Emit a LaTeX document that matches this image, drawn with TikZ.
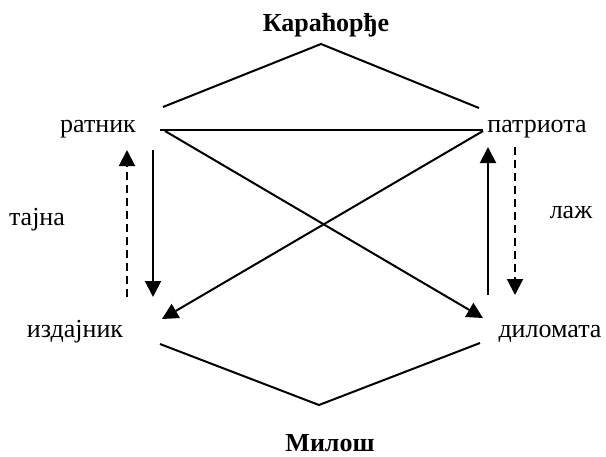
\documentclass[tikz,border=0pt]{standalone}
\usepackage{fontspec}
\setmainfont{Liberation Serif}
\usetikzlibrary{arrows.meta}
\tikzset{
  lbl/.style={anchor=base,inner sep=0pt,font=\fontsize{13}{15}\selectfont},
  blbl/.style={lbl,font=\fontsize{13}{15}\selectfont\bfseries},
  ln/.style={line width=1pt},
  arr/.style={ln,-{Triangle[length=8pt,width=8pt]}},
  darr/.style={arr,dash pattern=on 4pt off 2.5pt}
}
\begin{document}
\begin{tikzpicture}[x=0.5pt,y=-0.5pt]
\useasboundingbox (0,0) rectangle (606,456);
% labels
\node[blbl] (kar) at (326,31) {Караћорђе};
\node[blbl] (mil) at (330,451) {Милош};
\node[lbl] (rat) at (98,132) {ратник};
\node[lbl] (pat) at (537,132) {патриота};
\node[lbl] (izd) at (75,337) {издајник};
\node[lbl] (dip) at (550,337) {диломата};
\node[lbl] (taj) at (37,225) {тајна};
\node[lbl] (laz) at (571,218) {лаж};
% coordinates
\coordinate (ktop) at (321,44);
\coordinate (kl) at (163,107);
\coordinate (kr) at (479,108);
\coordinate (mbot) at (319,405);
\coordinate (ml) at (160,344);
\coordinate (mr) at (480,343);
\coordinate (rr) at (160,130);
\coordinate (pl) at (483,130);
\coordinate (rx) at (165,131);
\coordinate (px) at (483,131);
\coordinate (dx) at (483,318);
\coordinate (ix) at (162,319);
\coordinate (ls1) at (153,150);
\coordinate (ls2) at (153,297);
\coordinate (ld1) at (127,297);
\coordinate (ld2) at (127,150);
\coordinate (rs1) at (488,295);
\coordinate (rs2) at (488,147);
\coordinate (rd1) at (515,147);
\coordinate (rd2) at (515,295);
% lines
\draw[ln] (kl) -- (ktop) -- (kr);
\draw[ln] (ml) -- (mbot) -- (mr);
\draw[ln] (rr) -- (pl);
\draw[arr] (rx) -- (dx);
\draw[arr] (px) -- (ix);
\draw[arr] (ls1) -- (ls2);
\draw[darr] (ld1) -- (ld2);
\draw[arr] (rs1) -- (rs2);
\draw[darr] (rd1) -- (rd2);
\end{tikzpicture}
\end{document}
